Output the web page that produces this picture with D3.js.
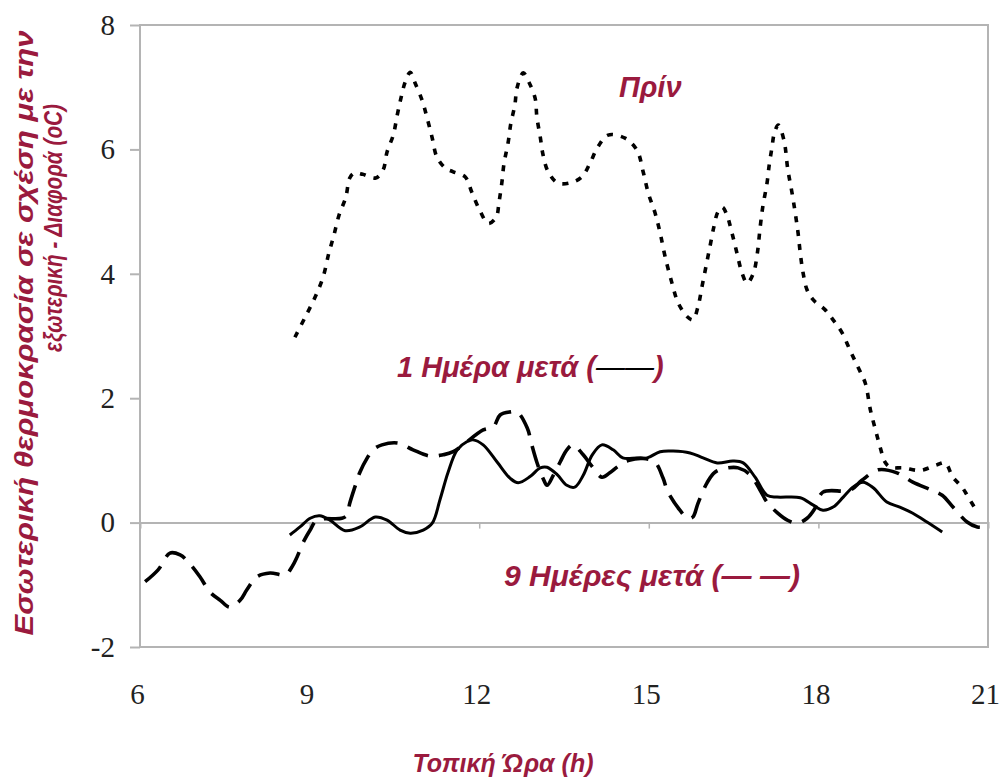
<!DOCTYPE html>
<html>
	<head>
		<title>Temperature difference</title>
		<meta charset="UTF-8">
		<style type="text/css">
			body { margin: 0; background: #fff; }
			.tick text { font-family: "Liberation Serif", "Times New Roman", serif; font-size: 29px; fill: #222; }
			.lbl { font-family: "Liberation Sans", Arial, sans-serif; font-weight: bold; font-style: italic; fill: #9a1a3e; }
		</style>
		<script src="https://d3js.org/d3.v7.min.js"></script>
	</head>
	<body>
		<script type="text/javascript">

			// tick labels
			var xTicks = [6, 9, 12, 15, 18, 21];
			var yTicks = [-2, 0, 2, 4, 6, 8];

			// "Πρίν" (dotted)
			var beforeHours = [8.74, 8.92, 9.10, 9.24, 9.34, 9.43, 9.52, 9.64, 9.71, 9.79, 9.94, 10.17, 10.30, 10.37, 10.48, 10.55, 10.62, 10.69, 10.78, 10.86,
				10.99, 11.08, 11.17, 11.25, 11.40, 11.54, 11.75, 11.87, 12.01, 12.16, 12.30, 12.35, 12.40, 12.44, 12.51, 12.56, 12.63, 12.67, 12.78, 12.88,
				12.99, 13.02, 13.08, 13.13, 13.22, 13.39, 13.64, 13.82, 13.96, 14.10, 14.28, 14.58, 14.79, 14.90, 14.99, 15.11, 15.20, 15.29, 15.41, 15.52,
				15.68, 15.78, 15.87, 15.94, 16.01, 16.08, 16.15, 16.22, 16.30, 16.38, 16.47, 16.56, 16.65, 16.74, 16.85, 16.92, 16.97, 17.02, 17.09, 17.13,
				17.18, 17.22, 17.29, 17.39, 17.46, 17.53, 17.59, 17.64, 17.68, 17.73, 17.80, 17.91, 18.12, 18.26, 18.42, 18.56, 18.70, 18.83, 18.92, 19.01,
				19.09, 19.18, 19.27, 19.50, 19.80, 20.10, 20.24, 20.38, 20.54, 20.65, 20.81];
			var beforeTemp = [2.98, 3.30, 3.63, 3.95, 4.33, 4.62, 4.94, 5.23, 5.54, 5.62, 5.60, 5.54, 5.67, 5.96, 6.23, 6.55, 6.84, 7.08, 7.24, 7.08,
				6.79, 6.50, 6.18, 5.88, 5.70, 5.64, 5.56, 5.31, 5.02, 4.81, 4.91, 5.15, 5.46, 5.78, 6.10, 6.42, 6.71, 6.99, 7.23, 7.08,
				6.82, 6.52, 6.20, 5.91, 5.64, 5.46, 5.47, 5.56, 5.78, 6.04, 6.23, 6.18, 5.99, 5.64, 5.30, 4.98, 4.66, 4.27, 3.85, 3.53,
				3.31, 3.26, 3.47, 3.79, 4.11, 4.43, 4.75, 4.99, 5.07, 4.95, 4.66, 4.33, 4.01, 3.85, 4.01, 4.33, 4.75, 5.10, 5.45, 5.75,
				6.04, 6.26, 6.39, 6.15, 5.67, 5.32, 4.98, 4.66, 4.33, 4.01, 3.74, 3.58, 3.42, 3.26, 3.05, 2.77, 2.50, 2.24, 1.81, 1.49,
				1.22, 0.97, 0.89, 0.88, 0.84, 0.93, 0.96, 0.73, 0.57, 0.41, 0.17];

			// "1 Ημέρα μετά" (solid)
			var day1Hours = [8.65, 8.83, 9.01, 9.18, 9.36, 9.63, 9.89, 10.16, 10.37, 10.60, 10.78, 11.01, 11.17, 11.31, 11.45, 11.61, 11.78, 11.89, 12.07, 12.32,
				12.55, 12.69, 12.90, 13.08, 13.20, 13.38, 13.55, 13.69, 13.84, 14.00, 14.17, 14.37, 14.54, 14.79, 14.97, 15.20, 15.43, 15.73, 15.96, 16.21,
				16.49, 16.67, 16.88, 17.09, 17.27, 17.68, 17.91, 18.08, 18.26, 18.44, 18.61, 18.79, 18.97, 19.21, 19.44, 19.67, 19.92, 20.19];
			var day1Temp = [-0.20, -0.07, 0.07, 0.11, 0.04, -0.13, -0.07, 0.09, 0.04, -0.12, -0.17, -0.12, -0.01, 0.38, 0.81, 1.17, 1.30, 1.33, 1.25, 0.97,
				0.71, 0.64, 0.74, 0.88, 0.89, 0.77, 0.60, 0.57, 0.76, 1.09, 1.25, 1.17, 1.04, 1.04, 1.04, 1.14, 1.15, 1.12, 1.04, 0.96,
				0.99, 0.96, 0.73, 0.44, 0.41, 0.40, 0.28, 0.20, 0.25, 0.41, 0.57, 0.65, 0.56, 0.33, 0.25, 0.15, 0.01, -0.15];

			// "9 Ημέρες μετά" (long dashes)
			var day9Hours = [6.09, 6.32, 6.53, 6.71, 6.85, 7.06, 7.24, 7.42, 7.59, 7.77, 7.89, 8.07, 8.30, 8.57, 8.69, 8.78, 8.88, 9.01, 9.13, 9.57,
				9.66, 9.71, 9.80, 9.89, 10.02, 10.12, 10.28, 10.56, 10.83, 11.13, 11.36, 11.54, 12.07, 12.25, 12.37, 12.55, 12.67, 12.85, 12.93, 13.02,
				13.13, 13.20, 13.31, 13.43, 13.55, 13.66, 13.84, 14.00, 14.17, 14.31, 14.45, 14.65, 14.90, 15.11, 15.25, 15.34, 15.55, 15.69, 15.78, 15.87,
				16.03, 16.17, 16.40, 16.58, 16.79, 16.97, 17.09, 17.27, 17.45, 17.62, 17.80, 17.94, 18.08, 18.56, 18.77, 19.06, 19.39, 19.67, 20.01, 20.19,
				20.38, 20.63, 20.81, 20.98];
			var day9Temp = [-0.95, -0.76, -0.49, -0.52, -0.63, -0.87, -1.12, -1.25, -1.36, -1.25, -1.08, -0.87, -0.81, -0.84, -0.71, -0.55, -0.33, -0.12, 0.04, 0.07,
				0.12, 0.31, 0.57, 0.81, 1.04, 1.17, 1.25, 1.28, 1.17, 1.07, 1.09, 1.14, 1.49, 1.54, 1.73, 1.78, 1.78, 1.52, 1.25, 0.97,
				0.71, 0.60, 0.76, 0.97, 1.17, 1.25, 1.09, 0.90, 0.73, 0.80, 0.90, 1.00, 1.03, 0.97, 0.72, 0.49, 0.20, 0.07, 0.09, 0.31,
				0.64, 0.81, 0.88, 0.88, 0.77, 0.52, 0.33, 0.16, 0.04, -0.01, 0.07, 0.23, 0.49, 0.52, 0.68, 0.85, 0.80, 0.65, 0.52, 0.44,
				0.25, 0.01, -0.07, -0.07];

			var series = [
				{hours: beforeHours, temp: beforeTemp, dash: "6,8", width: 3.6},
				{hours: day1Hours, temp: day1Temp, dash: null, width: 3},
				{hours: day9Hours, temp: day9Temp, dash: "22,11", width: 3.6}
			];

			var width = 1001, height = 778;
			var frameColor = "#b4b4b4";

			var svg = d3.select("body")
				.append("svg")
					.attr("width", width)
					.attr("height", height);

			var x = d3.scaleLinear().domain([6, 21]).range([140, 988]);
			var y = d3.scaleLinear().domain([-2, 8]).range([647, 25]);

			// frame
			svg.append("rect")
				.attr("x", x(6)).attr("y", y(8))
				.attr("width", x(21) - x(6)).attr("height", y(-2) - y(8))
				.attr("fill", "none")
				.attr("stroke", frameColor)
				.attr("stroke-width", 2);

			// y axis (ticks + labels)
			var yAxis = d3.axisLeft(y).tickValues(yTicks).tickSize(10).tickPadding(15)
				.tickFormat(function (d) { return String(d); });
			var gy = svg.append("g")
				.attr("transform", "translate(" + x(6) + ",0)")
				.call(yAxis);
			gy.select(".domain").remove();
			gy.selectAll("line").attr("stroke", frameColor).attr("stroke-width", 2);

			// x labels along bottom
			var xAxis = d3.axisBottom(x).tickValues(xTicks).tickSize(0).tickPadding(36);
			var gx = svg.append("g")
				.attr("transform", "translate(0," + y(-2) + ")")
				.call(xAxis);
			gx.select(".domain").remove();
			gx.selectAll("text").attr("dx", -3);

			// zero line with small ticks
			var zeroAxis = d3.axisBottom(x).tickValues([9, 12, 15, 18]).tickSize(6).tickFormat("");
			var gz = svg.append("g")
				.attr("transform", "translate(0," + y(0) + ")")
				.call(zeroAxis);
			gz.select(".domain").attr("stroke", frameColor).attr("stroke-width", 2);
			gz.selectAll("line").attr("stroke", frameColor).attr("stroke-width", 1.5);

			// lines
			var line = d3.line()
				.x(function (d) { return x(d[0]); })
				.y(function (d) { return y(d[1]); })
				.curve(d3.curveCatmullRom.alpha(0.5));

			series.forEach(function (s) {
				var pts = s.hours.map(function (h, i) { return [h, s.temp[i]]; });
				svg.append("path")
					.attr("d", line(pts))
					.attr("fill", "none")
					.attr("stroke", "#000")
					.attr("stroke-width", s.width)
					.attr("stroke-dasharray", s.dash)
					.attr("stroke-linejoin", "round");
			});

			// annotations
			svg.append("text").attr("class", "lbl")
				.attr("x", 619).attr("y", 97)
				.style("font-size", "29px")
				.text("Πρίν");

			var t1 = svg.append("text").attr("class", "lbl")
				.attr("x", 397).attr("y", 377)
				.style("font-size", "29px");
			t1.append("tspan").text("1 Ημέρα μετά (");
			t1.append("tspan").attr("fill", "#000").style("font-weight", "normal").text("——");
			t1.append("tspan").text(")");

			var t9 = svg.append("text").attr("class", "lbl")
				.attr("x", 504).attr("y", 586)
				.style("font-size", "30px");
			t9.append("tspan").text("9 Ημέρες μετά (");
			t9.append("tspan").text("— —");
			t9.append("tspan").text(")");

			// axis titles
			svg.append("text").attr("class", "lbl")
				.attr("text-anchor", "middle")
				.attr("x", 503).attr("y", 772)
				.style("font-size", "25px")
				.text("Τοπική Ώρα (h)");

			svg.append("text").attr("class", "lbl")
				.attr("text-anchor", "middle")
				.attr("transform", "translate(33,333) rotate(-90)")
				.attr("textLength", 605)
				.attr("lengthAdjust", "spacingAndGlyphs")
				.style("font-size", "26px")
				.text("Εσωτερική θερμοκρασία σε σχέση με την");

			svg.append("text").attr("class", "lbl")
				.attr("text-anchor", "middle")
				.attr("transform", "translate(62,228) rotate(-90)")
				.attr("textLength", 248)
				.attr("lengthAdjust", "spacingAndGlyphs")
				.style("font-size", "25px")
				.text("εξωτερική - Διαφορά (oC)");

		</script>
	</body>
</html>
